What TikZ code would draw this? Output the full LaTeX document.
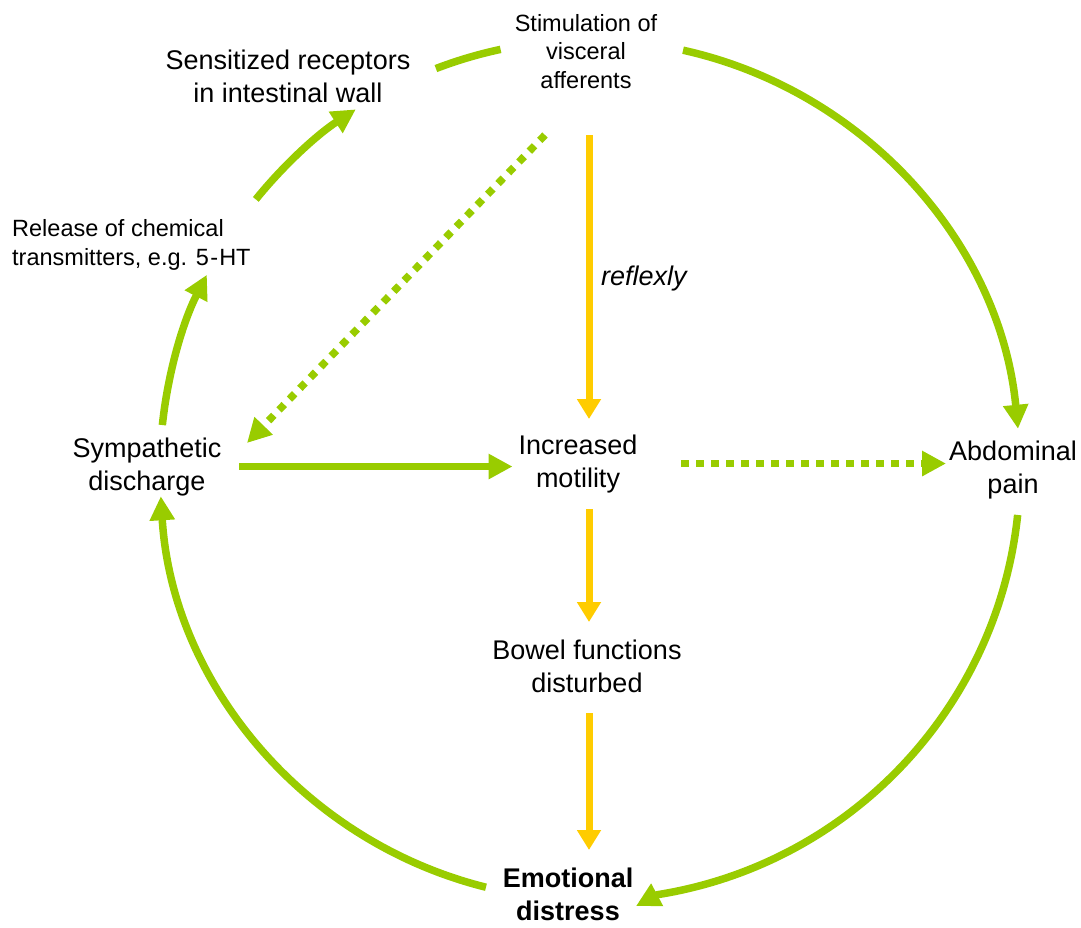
\documentclass[tikz,border=0pt]{standalone}
\usepackage{fontspec}
\setmainfont{Liberation Sans}
\usetikzlibrary{arrows.meta,calc}
\definecolor{lgreen}{HTML}{99CC00}
\definecolor{lorange}{HTML}{FFCC00}
\begin{document}
\begin{tikzpicture}[x=1pt,y=-1pt,
  lbl/.style={inner sep=0pt, align=center, font=\fontsize{27}{33}\selectfont, anchor=base},
  smalllbl/.style={inner sep=0pt, align=center, font=\fontsize{23.5}{28.5}\selectfont, anchor=base},
  gline/.style={draw=lgreen, line width=7.5pt},
  garrow/.style={gline, -{Triangle[length=24pt,width=24pt]}},
  gdot/.style={garrow, dash pattern=on 7.5pt off 7.5pt},
  oarrow/.style={draw=lorange, line width=7pt, -{Triangle[length=20pt,width=23pt]}},
]
\useasboundingbox (0,0) rectangle (1081,927);

% nodes (anchor base = baseline of last line)
\node[smalllbl] (stim) at (586,88) {Stimulation of\\visceral\\afferents};
\node[lbl] (sens) at (288,102) {Sensitized receptors\\in intestinal wall};
\node[smalllbl, align=left, anchor=base west] (rel) at (12,265) {Release of chemical\\transmitters, e.g. 5\kern1.5pt-\kern1pt HT};
\node[lbl] (symp) at (147,490) {Sympathetic\\discharge};
\node[lbl] (incr) at (578,487) {Increased\\motility};
\node[lbl] (abd) at (1013,493) {Abdominal\\pain};
\node[lbl] (bowel) at (587,692) {Bowel functions\\disturbed};
\node[lbl, font=\fontsize{27}{33}\selectfont\bfseries] (emo) at (568,920) {Emotional\\distress};
\node[inner sep=0pt, anchor=base west, font=\fontsize{27}{33}\selectfont\itshape] (refl) at (601,285) {reflexly};

% circle geometry
\coordinate (O) at (590,470);
\coordinate (aS) at ($(O)+(-111:430)$);
\coordinate (bS) at ($(O)+(-77.5:430)$);
\coordinate (cS) at ($(O)+(6:430)$);
\coordinate (cT) at (636,906);
\coordinate (dS) at ($(O)+(104:430)$);
\coordinate (eS) at ($(O)+(-174:430)$);
\coordinate (fS) at ($(O)+(-141:430)$);

% circular connectors
\draw[gline] (aS) arc[start angle=-111, end angle=-102, radius=430];
\draw[garrow] (bS) arc[start angle=-77.5, end angle=-5.5, radius=430];
\draw[garrow] (cS) arc[start angle=6, end angle=81, radius=430] -- (cT);
\draw[garrow] (dS) arc[start angle=104, end angle=176.5, radius=430];
\draw[garrow] (eS) arc[start angle=-174, end angle=-153, radius=430];
\draw[garrow] (fS) arc[start angle=-141, end angle=-123, radius=430];

% straight connectors
\draw[garrow, shorten <=18pt, shorten >=6pt] (symp.east) -- (symp.east -| incr.west);
\draw[gdot, shorten <=44pt, shorten >=3pt] (incr.east) -- (incr.east -| abd.west);
\coordinate (dgA) at (545,135);
\coordinate (dgB) at (247,443);
\draw[gdot] (dgA) -- (dgB);

\coordinate (o1a) at (589,135);
\coordinate (o1b) at (589,419);
\coordinate (o2a) at (589,509);
\coordinate (o2b) at (589,622);
\coordinate (o3a) at (589,713);
\coordinate (o3b) at (589,850);
\draw[oarrow] (o1a) -- (o1b);
\draw[oarrow] (o2a) -- (o2b);
\draw[oarrow] (o3a) -- (o3b);
\end{tikzpicture}
\end{document}
